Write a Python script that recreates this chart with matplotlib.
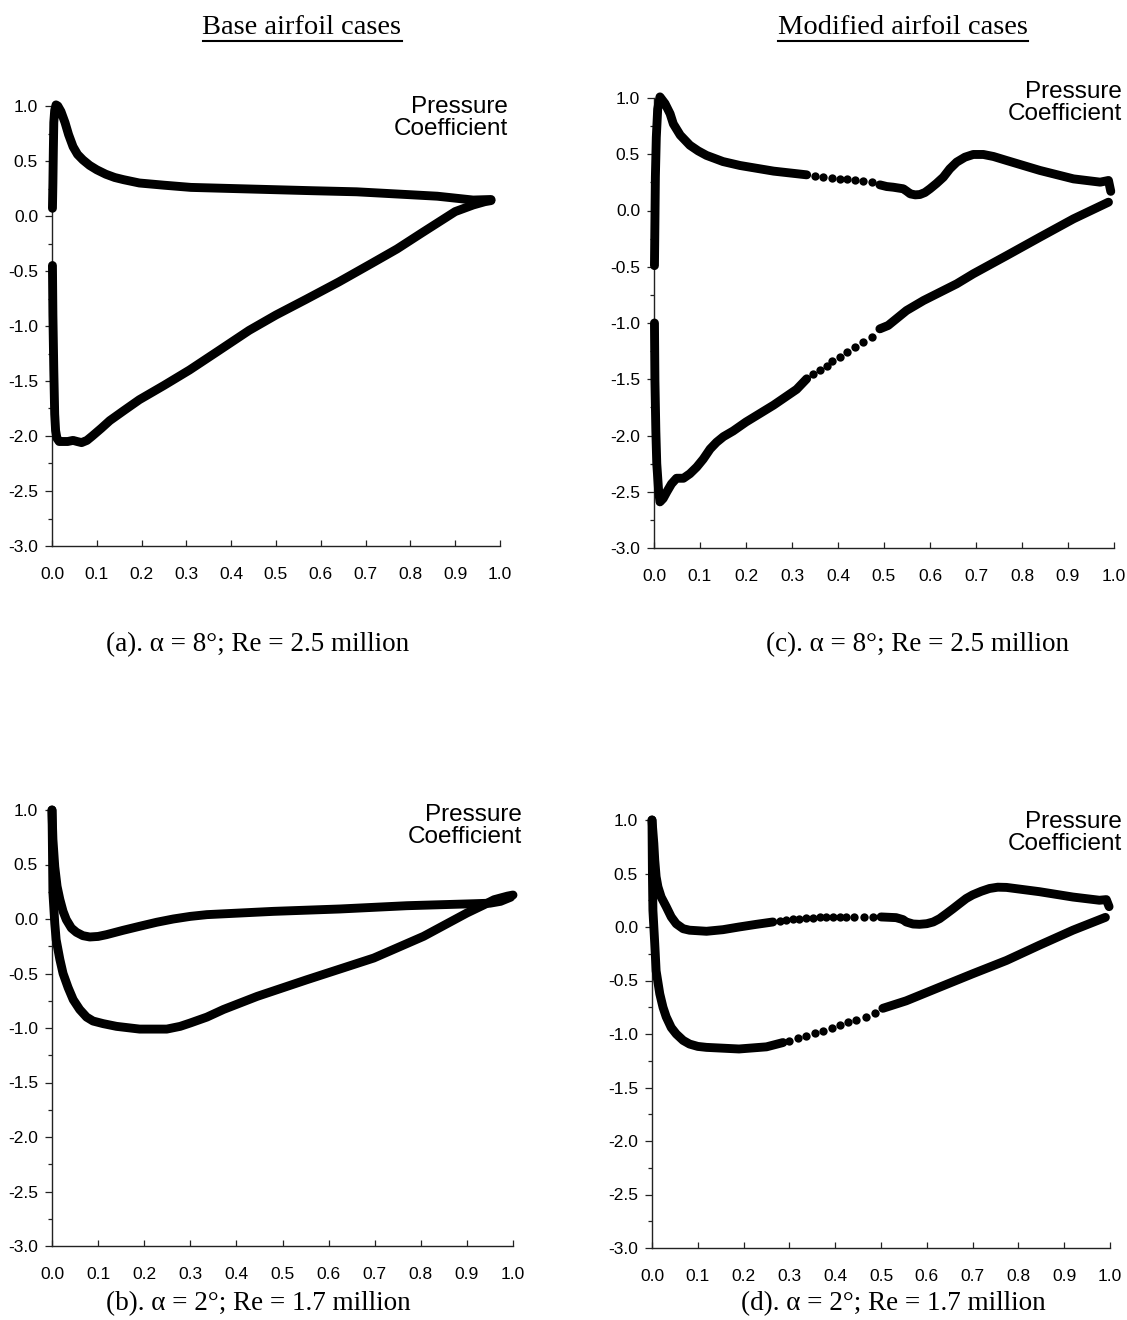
import matplotlib
matplotlib.use("Agg")
import matplotlib.pyplot as plt
from matplotlib.lines import Line2D
from matplotlib.ticker import MultipleLocator, FormatStrFormatter

W, H = 1127, 1320

# ---------------- data (x/c, Cp) ----------------
# (a) base airfoil, alpha = 8 deg, Re = 2.5 million
a_up_x = [0.001, 0.002, 0.003, 0.004, 0.006, 0.009, 0.013, 0.020, 0.029, 0.037, 0.047, 0.057,
          0.069, 0.084, 0.100, 0.120, 0.140, 0.160, 0.195, 0.250, 0.310, 0.400, 0.490, 0.580,
          0.680, 0.770, 0.860, 0.940, 0.980]
a_up_y = [0.07, 0.30, 0.60, 0.85, 0.96, 1.01, 1.00, 0.95, 0.85, 0.74, 0.63, 0.56,
          0.51, 0.46, 0.42, 0.38, 0.35, 0.33, 0.30, 0.28, 0.26, 0.25, 0.24, 0.23,
          0.22, 0.20, 0.18, 0.145, 0.15]
a_lo_x = [0.001, 0.002, 0.004, 0.006, 0.008, 0.011, 0.016, 0.025, 0.035, 0.047, 0.056, 0.066,
          0.078, 0.090, 0.110, 0.129, 0.160, 0.195, 0.250, 0.307, 0.370, 0.440, 0.500, 0.566,
          0.640, 0.714, 0.770, 0.825, 0.900, 0.940, 0.966, 0.980]
a_lo_y = [-0.45, -0.90, -1.40, -1.80, -1.95, -2.02, -2.05, -2.05, -2.05, -2.04, -2.05, -2.06,
          -2.04, -2.00, -1.93, -1.86, -1.77, -1.67, -1.54, -1.40, -1.23, -1.04, -0.90, -0.76,
          -0.60, -0.43, -0.30, -0.155, 0.04, 0.10, 0.13, 0.14]

# (b) base airfoil, alpha = 2 deg, Re = 1.7 million
b_up_x = [0.000, 0.002, 0.006, 0.011, 0.017, 0.024, 0.031, 0.042, 0.053, 0.067, 0.082, 0.100,
          0.118, 0.154, 0.190, 0.227, 0.263, 0.300, 0.336, 0.480, 0.625, 0.770, 0.915, 0.950,
          0.973, 0.995]
b_up_y = [1.00, 0.73, 0.48, 0.30, 0.18, 0.07, -0.006, -0.083, -0.122, -0.153, -0.165, -0.16,
          -0.144, -0.104, -0.067, -0.03, 0.0, 0.024, 0.04, 0.07, 0.092, 0.122, 0.14, 0.145,
          0.162, 0.20]
b_lo_x = [0.000, 0.001, 0.002, 0.006, 0.009, 0.017, 0.024, 0.035, 0.046, 0.060, 0.075, 0.089,
          0.111, 0.140, 0.190, 0.249, 0.278, 0.300, 0.336, 0.372, 0.445, 0.553, 0.698, 0.806,
          0.900, 0.937, 0.959, 0.988, 1.000]
b_lo_y = [1.00, 0.64, 0.24, -0.04, -0.19, -0.37, -0.50, -0.63, -0.74, -0.83, -0.90, -0.936,
          -0.96, -0.985, -1.01, -1.01, -0.985, -0.954, -0.90, -0.83, -0.71, -0.557, -0.358, -0.159,
          0.055, 0.13, 0.177, 0.21, 0.22]

# (c) modified airfoil, alpha = 8 deg, Re = 2.5 million
c_up1_x = [0.001, 0.002, 0.003, 0.005, 0.008, 0.013, 0.024, 0.035, 0.042, 0.057, 0.078, 0.096,
           0.114, 0.150, 0.187, 0.260, 0.332]
c_up1_y = [-0.49, -0.10, 0.30, 0.65, 0.90, 1.01, 0.95, 0.86, 0.77, 0.67, 0.58, 0.53,
           0.49, 0.435, 0.40, 0.35, 0.317]
c_up_dots_x = [0.350, 0.368, 0.386, 0.404, 0.419, 0.437, 0.455, 0.473]
c_up_dots_y = [0.305, 0.296, 0.287, 0.279, 0.276, 0.267, 0.258, 0.252]
c_up2_x = [0.491, 0.506, 0.520, 0.542, 0.550, 0.557, 0.568, 0.578, 0.589, 0.600, 0.614, 0.629,
           0.643, 0.658, 0.676, 0.694, 0.716, 0.738, 0.767, 0.839, 0.912, 0.970, 0.988, 0.993]
c_up2_y = [0.228, 0.213, 0.207, 0.193, 0.170, 0.148, 0.139, 0.142, 0.160, 0.193, 0.240, 0.296,
           0.370, 0.430, 0.474, 0.498, 0.498, 0.480, 0.444, 0.356, 0.281, 0.252, 0.267, 0.17]
c_lo1_x = [0.001, 0.002, 0.004, 0.006, 0.010, 0.013, 0.020, 0.028, 0.038, 0.049, 0.064, 0.078,
           0.093, 0.107, 0.122, 0.136, 0.151, 0.172, 0.200, 0.260, 0.310, 0.332]
c_lo1_y = [-1.00, -1.51, -1.96, -2.25, -2.49, -2.59, -2.56, -2.50, -2.43, -2.38, -2.38, -2.34,
           -2.28, -2.21, -2.12, -2.06, -2.01, -1.96, -1.88, -1.73, -1.59, -1.496]
c_lo_dots_x = [0.346, 0.361, 0.375, 0.388, 0.404, 0.420, 0.437, 0.455, 0.473]
c_lo_dots_y = [-1.452, -1.422, -1.378, -1.342, -1.298, -1.259, -1.215, -1.170, -1.120]
c_lo2_x = [0.491, 0.509, 0.549, 0.586, 0.658, 0.694, 0.767, 0.839, 0.912, 0.988]
c_lo2_y = [-1.052, -1.022, -0.889, -0.800, -0.652, -0.563, -0.400, -0.237, -0.074, 0.074]

# (d) modified airfoil, alpha = 2 deg, Re = 1.7 million
d_up1_x = [0.000, 0.004, 0.006, 0.009, 0.013, 0.020, 0.031, 0.042, 0.053, 0.068, 0.082, 0.119,
           0.155, 0.190, 0.228, 0.264]
d_up1_y = [1.00, 0.78, 0.625, 0.47, 0.375, 0.28, 0.19, 0.094, 0.03, -0.016, -0.03, -0.04,
           -0.025, 0.00, 0.025, 0.047]
d_up_dots_x = [0.279, 0.293, 0.308, 0.322, 0.337, 0.352, 0.366, 0.381, 0.395, 0.410, 0.424,
               0.442, 0.462, 0.483]
d_up_dots_y = [0.056, 0.0625, 0.072, 0.078, 0.084, 0.0875, 0.090, 0.094, 0.094, 0.097, 0.097,
               0.097, 0.094, 0.094]
d_up2_x = [0.500, 0.533, 0.548, 0.555, 0.570, 0.584, 0.600, 0.614, 0.628, 0.643, 0.657, 0.672,
           0.686, 0.700, 0.719, 0.737, 0.755, 0.774, 0.810, 0.846, 0.919, 0.977, 0.992, 0.998]
d_up2_y = [0.094, 0.0875, 0.069, 0.047, 0.028, 0.025, 0.031, 0.047, 0.078, 0.125, 0.17, 0.22,
           0.266, 0.30, 0.334, 0.36, 0.372, 0.37, 0.35, 0.33, 0.28, 0.25, 0.256, 0.19]
d_lo1_x = [0.000, 0.001, 0.002, 0.006, 0.009, 0.017, 0.024, 0.031, 0.042, 0.053, 0.068, 0.082,
           0.100, 0.119, 0.190, 0.250, 0.286]
d_lo1_y = [1.00, 0.47, 0.156, -0.156, -0.41, -0.625, -0.75, -0.84, -0.94, -1.00, -1.06, -1.094,
           -1.116, -1.125, -1.14, -1.12, -1.08]
d_lo_dots_x = [0.300, 0.319, 0.337, 0.355, 0.373, 0.392, 0.410, 0.428, 0.446, 0.468, 0.486]
d_lo_dots_y = [-1.0625, -1.04, -1.019, -0.99, -0.97, -0.944, -0.916, -0.89, -0.866, -0.8375,
               -0.803]
d_lo2_x = [0.504, 0.555, 0.628, 0.700, 0.774, 0.846, 0.919, 0.990]
d_lo2_y = [-0.76, -0.69, -0.5625, -0.4375, -0.3125, -0.17, -0.03, 0.09]

x_ticks = [0.0, 0.1, 0.2, 0.3, 0.4, 0.5, 0.6, 0.7, 0.8, 0.9, 1.0]
y_ticks = [1.0, 0.5, 0.0, -0.5, -1.0, -1.5, -2.0, -2.5, -3.0]

titles = ["Base airfoil cases", "Modified airfoil cases"]
captions = ["(a). \u03b1 = 8\u00b0; Re = 2.5 million", "(b). \u03b1 = 2\u00b0; Re = 1.7 million",
            "(c). \u03b1 = 8\u00b0; Re = 2.5 million", "(d). \u03b1 = 2\u00b0; Re = 1.7 million"]
legend_text = "Pressure\nCoefficient"

# ---------------- figure ----------------
plt.rcParams['font.family'] = ['Liberation Sans', 'DejaVu Sans']
fig = plt.figure(figsize=(W / 100, H / 100), dpi=100)
fig.patch.set_facecolor('white')


def rect(x0, x1, ytop, ybot):
    return [x0 / W, 1 - ybot / H, (x1 - x0) / W, (ybot - ytop) / H]


serif = ['Liberation Serif', 'DejaVu Serif']

panels = [
    (rect(52, 500, 106, 546), [(a_up_x, a_up_y), (a_lo_x, a_lo_y)], [], (508, 96)),
    (rect(52, 513, 810, 1246), [(b_up_x, b_up_y), (b_lo_x, b_lo_y)], [], (522, 804)),
    (rect(654, 1114, 98, 548), [(c_up1_x, c_up1_y), (c_up2_x, c_up2_y),
                                 (c_lo1_x, c_lo1_y), (c_lo2_x, c_lo2_y)],
     [(c_up_dots_x, c_up_dots_y), (c_lo_dots_x, c_lo_dots_y)], (1122, 81)),
    (rect(652, 1110, 820, 1248), [(d_up1_x, d_up1_y), (d_up2_x, d_up2_y),
                                   (d_lo1_x, d_lo1_y), (d_lo2_x, d_lo2_y)],
     [(d_up_dots_x, d_up_dots_y), (d_lo_dots_x, d_lo_dots_y)], (1122, 811)),
]

for pos, dense, dots, leg in panels:
    ax = fig.add_axes(pos)
    for xs, ys in dense:
        ax.plot(xs, ys, '-', color='black', lw=6.4, solid_capstyle='round',
                solid_joinstyle='round', clip_on=False, zorder=3)
    for xs, ys in dots:
        ax.plot(xs, ys, 'o', color='black', ms=6.0, mew=0, clip_on=False, zorder=3)
    ax.set_xlim(0.0, 1.0)
    ax.set_ylim(-3.0, 1.0)
    ax.set_xticks(x_ticks)
    ax.set_yticks(y_ticks)
    ax.yaxis.set_minor_locator(MultipleLocator(0.25))
    ax.xaxis.set_major_formatter(FormatStrFormatter('%.1f'))
    ax.yaxis.set_major_formatter(FormatStrFormatter('%.1f'))
    for s in ['top', 'right']:
        ax.spines[s].set_visible(False)
    for s in ['left', 'bottom']:
        ax.spines[s].set_linewidth(1.0)
        ax.spines[s].set_color('#222222')
    ax.tick_params(axis='y', which='major', direction='out', length=5, width=0.9,
                   pad=5, labelsize=12.5, colors='#222222', labelcolor='black')
    ax.tick_params(axis='y', which='minor', direction='out', length=3, width=0.9,
                   colors='#222222')
    ax.tick_params(axis='x', which='major', direction='in', length=4, width=0.9,
                   pad=15, labelsize=12.5, colors='#222222', labelcolor='black')
    ax.patch.set_alpha(0)
    fig.text(leg[0] / W, 1 - leg[1] / H, legend_text, ha='right', va='top',
             fontsize=17.5, linespacing=1.0, color='black')

title_pos = [(302, 27), (903, 27)]
title_artists = []
for t, (x, y) in zip(titles, title_pos):
    title_artists.append(fig.text(x / W, 1 - y / H, t, ha='center', va='center',
                                  fontsize=20.5, family=serif, color='black'))

cap_pos = [(258, 645), (258, 1304), (918, 645), (893, 1304)]
for c, (x, y) in zip(captions, cap_pos):
    fig.text(x / W, 1 - y / H, c, ha='center', va='center', fontsize=19.5,
             family=serif, color='black')

# underline the column titles
fig.canvas.draw()
renderer = fig.canvas.get_renderer()
for ta in title_artists:
    bb = ta.get_window_extent(renderer).transformed(fig.transFigure.inverted())
    yl = bb.y0 - 1.0 / H
    fig.add_artist(Line2D([bb.x0, bb.x1], [yl, yl], transform=fig.transFigure,
                          color='black', lw=1.5))

fig.savefig('out.png', dpi=100, facecolor='white')
